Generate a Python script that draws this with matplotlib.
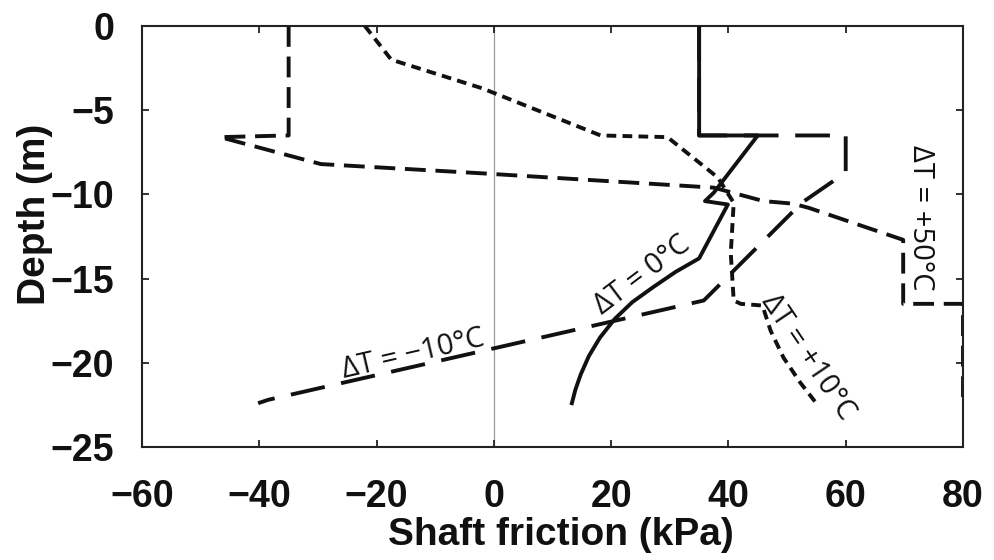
import matplotlib
matplotlib.use("Agg")
import matplotlib.pyplot as plt

# ---- data (shaft friction in kPa vs depth in m) ----
dt0_x = [35, 35, 45, 37.5, 36.0, 39.9, 35.0, 31.0, 27.2, 23.6, 20.6, 18.1, 16.2, 14.8, 13.9, 13.3]
dt0_y = [0, -6.5, -6.5, -9.9, -10.4, -10.6, -13.8, -14.6, -15.5, -16.4, -17.4, -18.5, -19.6, -20.7, -21.6, -22.4]

dtm10_x = [35, 35, 60, 60, 52.5, 35.8, -38.5, -40.2]
dtm10_y = [0, -6.5, -6.5, -8.7, -10.5, -16.3, -22.2, -22.4]

dt10_x = [-22, -17.5, -2, 18.2, 29.6, 38.2, 40.9, 40.4, 40.9, 42.1, 45.8, 47.2, 49.4, 52.3, 55.2]
dt10_y = [0, -2, -3.7, -6.5, -6.6, -9.0, -10.5, -13.5, -16.3, -16.5, -16.6, -18.1, -19.7, -21.2, -22.5]

dt50_x = [-35, -35, -46.7, -29.5, -2, 37.5, 46, 51, 53.7, 69.8, 69.8, 80, 80]
dt50_y = [0, -6.5, -6.6, -8.2, -8.75, -9.6, -10.4, -10.55, -10.8, -12.7, -16.5, -16.5, -22.3]

x_ticks = [-60, -40, -20, 0, 20, 40, 60, 80]
y_ticks = [0, -5, -10, -15, -20, -25]

plt.rcParams['lines.scale_dashes'] = False
plt.rcParams['font.family'] = 'Liberation Sans'

fig = plt.figure(figsize=(9.94, 5.6), dpi=100)
ax = fig.add_axes([0.1429, 0.2018, 0.8259, 0.7518])

ax.axvline(0, color='#9a9a9a', lw=0.9, zorder=1)

lw = 2.8
ax.plot(dtm10_x, dtm10_y, color='#111111', lw=lw, dashes=(25, 12), zorder=2)
ax.plot(dt50_x, dt50_y, color='#111111', lw=lw, dashes=(15, 7), zorder=2)
ax.plot(dt10_x, dt10_y, color='#111111', lw=lw, dashes=(7, 4.5), zorder=2)
ax.plot(dt0_x, dt0_y, color='#111111', lw=lw, zorder=3)

ax.set_xlim(-60, 80)
ax.set_ylim(-25, 0)
ax.set_xticks(x_ticks)
ax.set_yticks(y_ticks)

for s in ax.spines.values():
    s.set_linewidth(1.5)
    s.set_color('#222222')

ax.tick_params(direction='in', length=5, width=1.3, top=True, right=True,
               labelsize=27, colors='#222222')
ax.tick_params(axis='x', pad=23)
ax.tick_params(axis='y', pad=20)
for lab in ax.get_xticklabels() + ax.get_yticklabels():
    lab.set_fontweight('bold')
    lab.set_color('#111111')

ax.set_xlabel('Shaft friction (kPa)', fontsize=28, fontweight='bold', color='#111111')
ax.set_ylabel('Depth (m)', fontsize=28, fontweight='bold', color='#111111')
ax.xaxis.set_label_coords(0.51, -0.166)
ax.yaxis.set_label_coords(-0.108, 0.553)

# curve labels, anchored at the middle of their baseline
lab_kw = dict(fontsize=21, family=['Open Sans', 'DejaVu Sans'], color='#111111',
              ha='center', va='baseline', rotation_mode='anchor')
ax.text(-13.4, -19.95, 'ΔT = −10°C', rotation=13, **lab_kw)
ax.text(26.0, -15.17, 'ΔT = 0°C', rotation=37, **lab_kw)
ax.text(52.5, -19.89, 'ΔT = +10°C', rotation=-56, **lab_kw)
ax.text(71.5, -11.4, 'ΔT = +50°C', rotation=-90, **lab_kw)

fig.savefig('out.png', dpi=100, facecolor='white')
